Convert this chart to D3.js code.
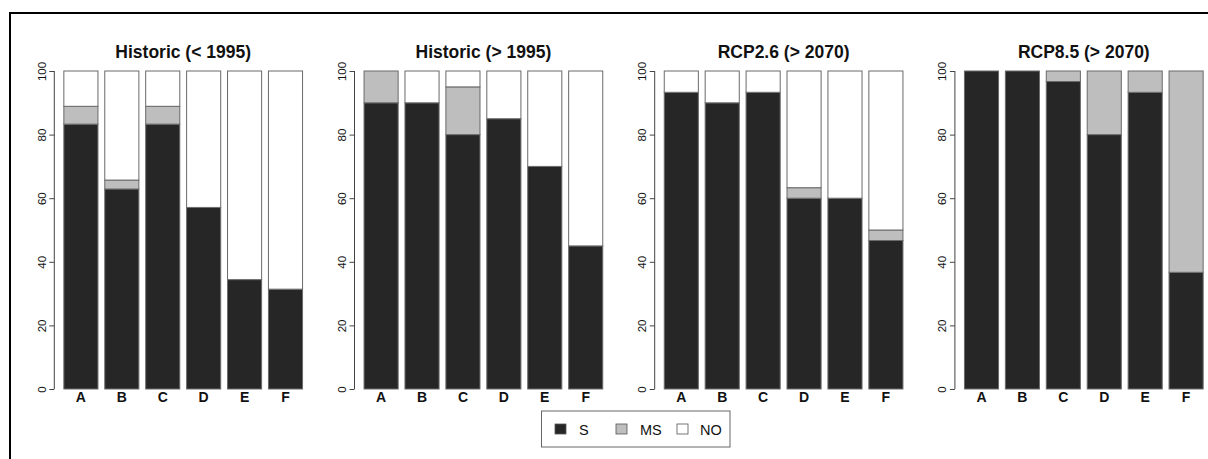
<!DOCTYPE html>
<html>
<head>
<meta charset="utf-8">
<script src="https://cdn.jsdelivr.net/npm/d3@7"></script>
<style>
  html, body { margin: 0; padding: 0; background: #fff; }
  svg { display: block; font-family: "Liberation Sans", Arial, sans-serif; }
</style>
</head>
<body>
<svg id="chart" width="1208" height="459"></svg>
<script>
const categories = ["A", "B", "C", "D", "E", "F"];
const panelTitles = ["Historic (< 1995)", "Historic (> 1995)", "RCP2.6 (> 2070)", "RCP8.5 (> 2070)"];
const seriesNames = ["S", "MS", "NO"];
const seriesColors = ["#262626", "#bebebe", "#ffffff"];
const yTicks = [0, 20, 40, 60, 80, 100];

// S values per panel
const sValues = [
  [83.3, 62.9, 83.3, 57.1, 34.4, 31.4],
  [90.0, 90.0, 80.0, 85.0, 70.0, 45.0],
  [93.3, 90.0, 93.3, 60.0, 60.0, 46.7],
  [100, 100, 96.7, 80.0, 93.3, 36.7]
];
// MS values per panel
const msValues = [
  [5.6, 2.8, 5.6, 0, 0, 0],
  [10.0, 0, 15.0, 0, 0, 0],
  [0, 0, 0, 3.3, 0, 3.3],
  [0, 0, 3.3, 20.0, 6.7, 63.3]
];
// NO values per panel
const noValues = [
  [11.1, 34.3, 11.1, 42.9, 65.6, 68.6],
  [0, 10.0, 5.0, 15.0, 30.0, 55.0],
  [6.7, 10.0, 6.7, 36.7, 40.0, 50.0],
  [0, 0, 0, 0, 0, 0]
];

const svg = d3.select("#chart");

// outer frame (top and left edges visible)
svg.append("line").attr("x1", 10).attr("x2", 1208).attr("y1", 13).attr("y2", 13)
  .attr("stroke", "#000").attr("stroke-width", 2);
svg.append("line").attr("x1", 10).attr("x2", 10).attr("y1", 12).attr("y2", 459)
  .attr("stroke", "#000").attr("stroke-width", 2);

const unit = 34.1;          // px per bar unit
const panelStep = 300.2;
const axis0 = 54.3;
const yTop = 71, yBottom = 389;

const y = d3.scaleLinear().domain([0, 100]).range([yBottom, yTop]);

panelTitles.forEach((title, p) => {
  const ax = axis0 + p * panelStep;
  const x = d3.scaleLinear().domain([-0.08, 7.48]).range([ax, ax + 7.56 * unit]);
  const g = svg.append("g");

  const rows = categories.map((c, i) => ({ cat: c, S: sValues[p][i], MS: msValues[p][i], NO: noValues[p][i] }));
  const stack = d3.stack().keys(seriesNames)(rows);

  stack.forEach((layer, li) => {
    g.selectAll(null).data(layer).enter().append("rect")
      .attr("x", (d, i) => x(0.2 + i * 1.2))
      .attr("width", x(1) - x(0))
      .attr("y", d => y(d[1]))
      .attr("height", d => Math.max(0, y(d[0]) - y(d[1])))
      .attr("fill", seriesColors[li])
      .attr("stroke", "#6a6a6a")
      .attr("stroke-width", 1)
      .style("display", d => (d[1] - d[0]) > 0 ? null : "none");
  });

  // y axis
  const yAxis = d3.axisLeft(y).tickValues(yTicks).tickSize(5).tickPadding(3).tickFormat(d3.format("d"));
  const ag = g.append("g").attr("transform", `translate(${ax},0)`).call(yAxis);
  ag.select(".domain").attr("stroke", "#444").attr("d", `M0,${yBottom}V${yTop}`);
  ag.selectAll(".tick line").attr("stroke", "#444");
  ag.selectAll(".tick text")
    .attr("font-size", 11.5)
    .attr("fill", "#111")
    .attr("x", null).attr("dy", null)
    .attr("text-anchor", "middle")
    .attr("transform", "translate(-8.5,0) rotate(-90)")
    .attr("y", 0);

  // category labels
  g.selectAll(null).data(categories).enter().append("text")
    .attr("x", (d, i) => x(0.2 + i * 1.2 + 0.5))
    .attr("y", 402)
    .attr("text-anchor", "middle")
    .attr("font-size", 14)
    .attr("font-weight", "bold")
    .attr("fill", "#111")
    .text(d => d);

  // title
  g.append("text")
    .attr("x", (x.range()[0] + x.range()[1]) / 2)
    .attr("y", 58)
    .attr("text-anchor", "middle")
    .attr("font-size", 17.5)
    .attr("font-weight", "bold")
    .attr("fill", "#111")
    .text(title);
});

// legend
const legend = svg.append("g");
legend.append("rect").attr("x", 541.5).attr("y", 411).attr("width", 188.5).attr("height", 36)
  .attr("fill", "#fff").attr("stroke", "#666").attr("stroke-width", 1);
const legendSquareX = [555, 616, 677];
const legendTextX = [579, 640, 700];
seriesNames.forEach((name, i) => {
  legend.append("rect")
    .attr("x", legendSquareX[i]).attr("y", 424)
    .attr("width", 11).attr("height", 10)
    .attr("fill", seriesColors[i]).attr("stroke", "#555").attr("stroke-width", 0.8);
  legend.append("text")
    .attr("x", legendTextX[i]).attr("y", 434.5)
    .attr("font-size", 14.5).attr("fill", "#111")
    .text(name);
});
</script>
</body>
</html>
